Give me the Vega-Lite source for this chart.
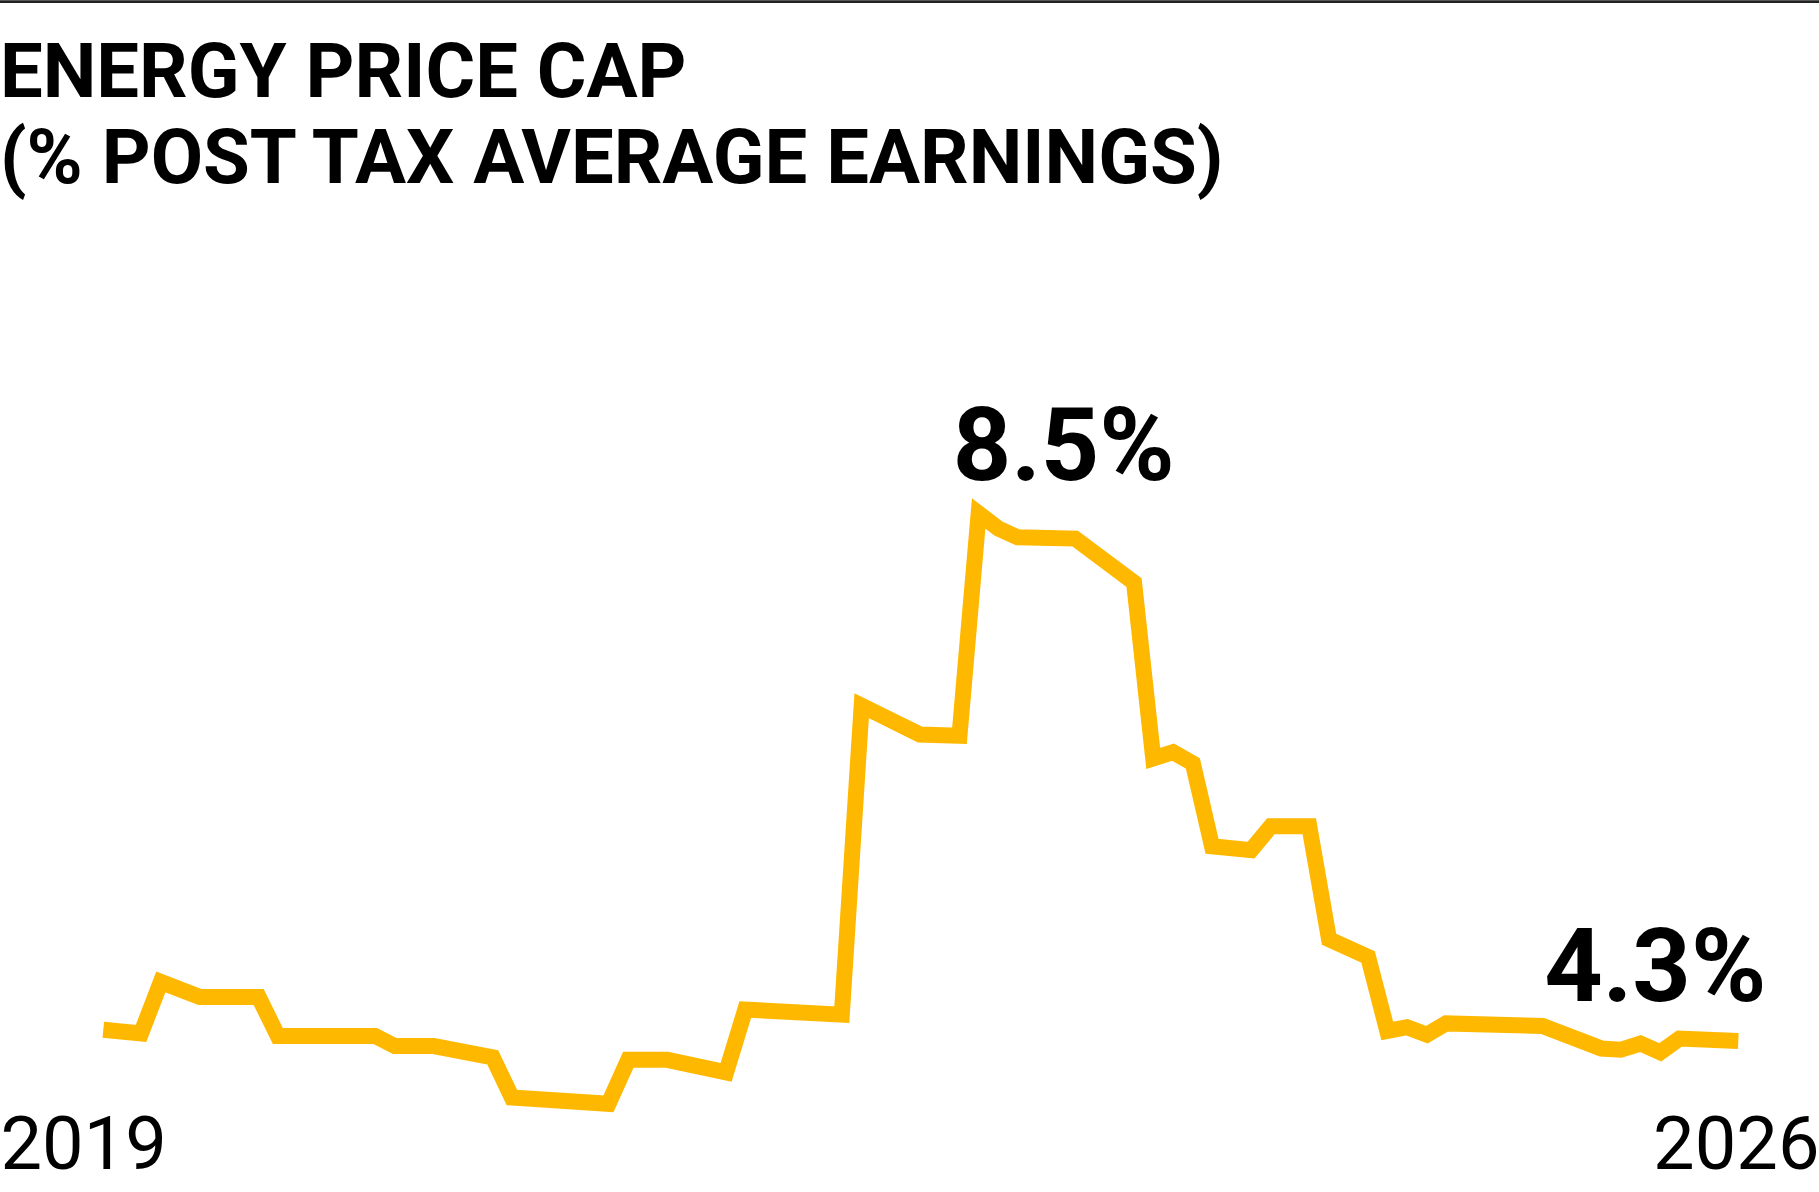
{
  "$schema": "https://vega.github.io/schema/vega-lite/v6.json",
  "width": 1819,
  "height": 1110,
  "autosize": {"type": "none"},
  "padding": {"top": 0, "left": 0, "right": 0, "bottom": 82},
  "background": "#ffffff",
  "config": {"view": {"stroke": null}, "font": "Roboto"},
  "title": {
    "text": ["ENERGY PRICE CAP", "(% POST TAX AVERAGE EARNINGS)"],
    "anchor": "start",
    "frame": "group",
    "font": "Roboto",
    "fontSize": 76,
    "fontWeight": "bold",
    "lineHeight": 86,
    "color": "#000000",
    "offset": -199
  },
  "data": {
    "values": [
      {"date": "2019-01-01", "value": 0.0439},
      {"date": "2019-03-01", "value": 0.0436},
      {"date": "2019-04-01", "value": 0.0477},
      {"date": "2019-06-01", "value": 0.0465},
      {"date": "2019-09-01", "value": 0.0465},
      {"date": "2019-10-01", "value": 0.0434},
      {"date": "2020-03-01", "value": 0.0434},
      {"date": "2020-04-01", "value": 0.0426},
      {"date": "2020-06-01", "value": 0.0426},
      {"date": "2020-09-01", "value": 0.0417},
      {"date": "2020-10-01", "value": 0.0385},
      {"date": "2021-03-01", "value": 0.0380},
      {"date": "2021-04-01", "value": 0.0415},
      {"date": "2021-06-01", "value": 0.0415},
      {"date": "2021-09-01", "value": 0.0405},
      {"date": "2021-10-01", "value": 0.0455},
      {"date": "2022-03-01", "value": 0.0451},
      {"date": "2022-04-01", "value": 0.0697},
      {"date": "2022-07-01", "value": 0.0674},
      {"date": "2022-09-01", "value": 0.0673},
      {"date": "2022-10-01", "value": 0.0850},
      {"date": "2022-11-01", "value": 0.0838},
      {"date": "2022-12-01", "value": 0.0831},
      {"date": "2023-03-01", "value": 0.0830},
      {"date": "2023-06-01", "value": 0.0795},
      {"date": "2023-07-01", "value": 0.0655},
      {"date": "2023-08-01", "value": 0.0660},
      {"date": "2023-09-01", "value": 0.0651},
      {"date": "2023-10-01", "value": 0.0585},
      {"date": "2023-12-01", "value": 0.0582},
      {"date": "2024-01-01", "value": 0.0601},
      {"date": "2024-03-01", "value": 0.0601},
      {"date": "2024-04-01", "value": 0.0511},
      {"date": "2024-06-01", "value": 0.0497},
      {"date": "2024-07-01", "value": 0.0438},
      {"date": "2024-08-01", "value": 0.0441},
      {"date": "2024-09-01", "value": 0.0435},
      {"date": "2024-10-01", "value": 0.0444},
      {"date": "2025-03-01", "value": 0.0442},
      {"date": "2025-06-01", "value": 0.0424},
      {"date": "2025-07-01", "value": 0.0423},
      {"date": "2025-08-01", "value": 0.0428},
      {"date": "2025-09-01", "value": 0.0421},
      {"date": "2025-10-01", "value": 0.0432},
      {"date": "2026-01-01", "value": 0.0430}
    ]
  },
  "layer": [
    {
      "mark": {"type": "line", "color": "#FFB800", "strokeWidth": 16, "strokeJoin": "miter", "strokeCap": "butt"},
      "encoding": {
        "x": {
          "field": "date",
          "type": "temporal",
          "scale": {
            "domain": [
              {"year": 2018, "month": 7, "date": 23, "hours": 11, "utc": true},
              {"year": 2026, "month": 5, "date": 7, "hours": 5, "utc": true}
            ],
            "nice": false
          },
          "axis": {
            "values": [
              {"year": 2018, "month": 7, "date": 23, "hours": 12, "utc": true},
              {"year": 2026, "month": 5, "date": 7, "hours": 4, "utc": true}
            ],
            "labelExpr": "datum.index < 0.5 ? '2019' : '2026'",
            "labelFlush": true,
            "labelOverlap": false,
            "domain": false,
            "ticks": false,
            "grid": false,
            "title": null,
            "labelFont": "Roboto",
            "labelFontSize": 74,
            "labelColor": "#000000",
            "labelBaseline": "alphabetic",
            "labelPadding": 58
          }
        },
        "y": {
          "field": "value",
          "type": "quantitative",
          "scale": {"domain": [0.0375064, 0.125882], "nice": false, "zero": false},
          "axis": null
        }
      }
    },
    {
      "transform": [{"filter": "year(datum.date) >= 2026"}],
      "mark": {"type": "rule", "color": "#222222", "strokeWidth": 2.7},
      "encoding": {"y": {"datum": 0.125752}}
    },
    {
      "transform": [{"filter": "datum.value >= 0.085"}],
      "mark": {"type": "text", "font": "Roboto", "fontWeight": "bold", "fontSize": 102, "align": "left", "baseline": "alphabetic", "dx": -26, "dy": -33, "color": "#000000"},
      "encoding": {
        "x": {"field": "date", "type": "temporal"},
        "y": {"field": "value", "type": "quantitative"},
        "text": {"field": "value", "type": "quantitative", "format": ".1%"}
      }
    },
    {
      "transform": [{"filter": "year(datum.date) >= 2026"}],
      "mark": {"type": "text", "font": "Roboto", "fontWeight": "bold", "fontSize": 102, "align": "right", "baseline": "alphabetic", "dx": 28, "dy": -40, "color": "#000000"},
      "encoding": {
        "x": {"field": "date", "type": "temporal"},
        "y": {"field": "value", "type": "quantitative"},
        "text": {"field": "value", "type": "quantitative", "format": ".1%"}
      }
    }
  ]
}
